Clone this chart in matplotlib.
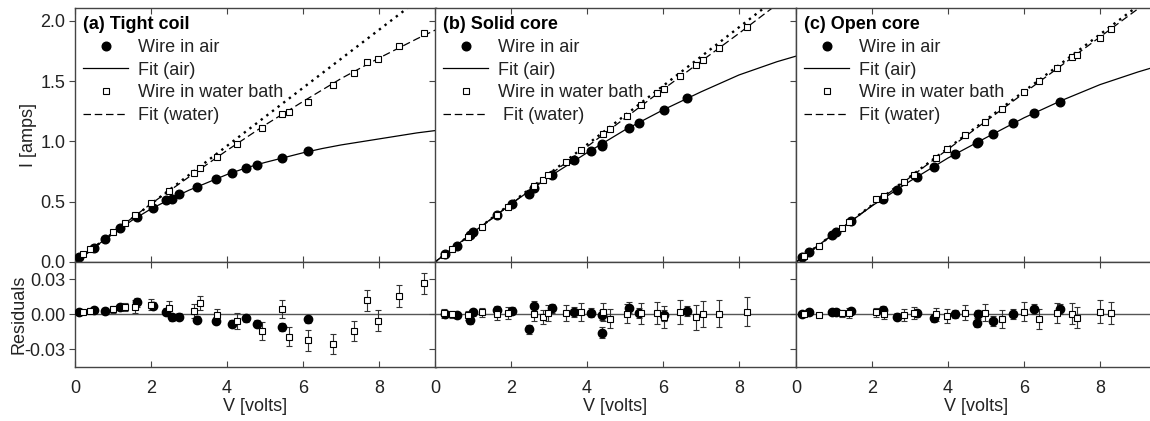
import matplotlib
matplotlib.use('Agg')
import matplotlib.pyplot as plt

plt.rcParams['font.family'] = ['Liberation Sans', 'DejaVu Sans']
plt.rcParams['font.size'] = 13

titles = ['(a) Tight coil', '(b) Solid core', '(c) Open core']
water_fit_labels = ['Fit (water)', ' Fit (water)', 'Fit (water)']

# --- (a) tight coil ---
a_air_v = [0.1, 0.5, 0.79, 1.19, 1.63, 2.06, 2.40, 2.56, 2.74, 3.21, 3.71, 4.14, 4.50, 4.79, 5.45, 6.14]
a_air_i = [0.04, 0.12, 0.19, 0.28, 0.37, 0.45, 0.51, 0.525, 0.56, 0.62, 0.69, 0.74, 0.78, 0.805, 0.86, 0.92]
a_air_res = [0.002, 0.0034, 0.003, 0.006, 0.0103, 0.0074, 0.0023, -0.0026, -0.002, -0.0049, -0.0057,
             -0.0083, -0.0034, -0.0083, -0.0109, -0.0043]
a_air_err = [0.0015, 0.0018, 0.002, 0.0025, 0.004, 0.003, 0.003, 0.003, 0.003, 0.003, 0.003, 0.003,
             0.003, 0.003, 0.0033, 0.003]
a_wat_v = [0.22, 0.40, 1.0, 1.31, 1.58, 2.01, 2.47, 3.12, 3.29, 3.74, 4.26, 4.93, 5.46, 5.62, 6.12, 6.80,
           7.33, 7.68, 7.97, 8.52, 9.18]
a_wat_i = [0.067, 0.106, 0.25, 0.32, 0.39, 0.49, 0.59, 0.74, 0.78, 0.87, 0.975, 1.11, 1.23, 1.24, 1.33,
           1.47, 1.57, 1.66, 1.68, 1.79, 1.90]
a_wat_res = [0.002, 0.003, 0.0043, 0.006, 0.0065, 0.008, 0.0057, 0.0028, 0.0094, -0.0006, -0.006, -0.0143,
             0.0043, -0.0192, -0.0223, -0.0252, -0.014, 0.012, -0.0055, 0.0154, 0.0266]
a_wat_err = [0.0015, 0.002, 0.003, 0.0035, 0.0054, 0.0047, 0.0053, 0.006, 0.006, 0.0054, 0.0067, 0.0074,
             0.0079, 0.0083, 0.0089, 0.0086, 0.0086, 0.0089, 0.009, 0.0093, 0.0091]
a_fit_air_v = [0, 0.5, 1, 1.5, 2, 2.5, 3, 3.5, 4, 4.5, 5, 5.5, 6, 6.5, 7, 7.5, 8, 8.5, 9, 9.5]
a_fit_air_i = [0, 0.12, 0.235, 0.345, 0.44, 0.52, 0.595, 0.66, 0.725, 0.78, 0.825, 0.865, 0.905, 0.94,
               0.97, 0.995, 1.02, 1.045, 1.07, 1.09]
a_fit_wat_v = [0, 1, 2, 3, 4, 5, 6, 7, 8, 9, 9.5]
a_fit_wat_i = [0, 0.246, 0.482, 0.705, 0.925, 1.135, 1.33, 1.52, 1.69, 1.85, 1.925]
a_lin_v = [0, 9.5]
a_lin_i = [0, 2.285]

# --- (b) solid core ---
b_air_v = [0.26, 0.57, 0.93, 1.0, 1.62, 2.02, 2.47, 2.61, 3.07, 3.67, 4.11, 4.39, 4.39, 5.11, 5.37, 6.03, 6.62]
b_air_i = [0.064, 0.133, 0.225, 0.245, 0.39, 0.483, 0.567, 0.615, 0.717, 0.842, 0.92, 0.978, 0.963,
           1.114, 1.15, 1.26, 1.356]
b_air_res = [0.0005, -0.0009, -0.005, 0.0015, 0.0037, 0.003, -0.0129, 0.007, 0.005, 0.002, 0.0013,
             -0.0007, -0.0157, 0.0057, 0.001, -0.001, 0.0027]
b_air_err = [0.002, 0.002, 0.003, 0.003, 0.003, 0.003, 0.004, 0.004, 0.004, 0.004, 0.004, 0.0045, 0.0045,
             0.0045, 0.0045, 0.005, 0.0045]
b_wat_v = [0.24, 0.46, 0.88, 1.23, 1.62, 1.91, 2.61, 2.85, 2.98, 3.45, 3.84, 4.41, 4.61, 5.04, 5.41, 5.85,
           6.03, 6.46, 6.87, 7.06, 7.47, 8.22]
b_wat_i = [0.058, 0.106, 0.206, 0.294, 0.39, 0.455, 0.628, 0.683, 0.717, 0.828, 0.928, 1.058, 1.106, 1.211,
           1.30, 1.397, 1.433, 1.544, 1.636, 1.678, 1.775, 1.947]
b_wat_res = [0.0007, 0.0, -0.001, 0.0017, 0.0003, 0.001, 0.0006, -0.0026, 0.001, 0.001, 0.002, 0.002,
             -0.0037, 0.0006, 0.001, 0.001, -0.0026, 0.002, -0.0026, 0.0003, 0.0003, 0.002]
b_wat_err = [0.0035, 0.003, 0.004, 0.004, 0.005, 0.005, 0.006, 0.006, 0.0065, 0.0067, 0.0075, 0.0075,
             0.008, 0.0085, 0.009, 0.0095, 0.0095, 0.01, 0.0105, 0.011, 0.0115, 0.0125]
b_fit_air_v = [0, 1, 2, 3, 4, 5, 6, 7, 8, 9, 9.5]
b_fit_air_i = [0, 0.245, 0.48, 0.705, 0.905, 1.095, 1.26, 1.41, 1.55, 1.66, 1.706]
b_fit_wat_v = [0, 2, 4, 6, 8, 9.5]
b_fit_wat_i = [0, 0.48, 0.955, 1.43, 1.895, 2.255]
b_lin_v = [0, 9.5]
b_lin_i = [0, 2.31]

# --- (c) open core ---
c_air_v = [0.15, 0.35, 0.96, 1.04, 1.45, 2.28, 2.67, 3.18, 3.64, 4.19, 4.75, 4.78, 5.19, 5.71, 6.26, 6.95]
c_air_i = [0.044, 0.081, 0.225, 0.245, 0.336, 0.522, 0.60, 0.706, 0.789, 0.897, 0.985, 0.994, 1.064,
           1.15, 1.233, 1.33]
c_air_res = [0.0, 0.002, 0.002, 0.0023, 0.003, 0.0037, -0.002, 0.001, -0.0029, 0.0, -0.0071, 0.0,
             -0.0057, 0.0, 0.0046, 0.0043]
c_air_err = [0.0015, 0.002, 0.002, 0.002, 0.0025, 0.003, 0.003, 0.003, 0.0035, 0.0035, 0.004, 0.004,
             0.004, 0.0045, 0.0045, 0.0045]
c_wat_v = [0.2, 0.61, 1.2, 1.40, 2.10, 2.32, 2.83, 3.11, 3.68, 3.97, 4.45, 4.97, 5.41, 6.00, 6.40, 6.88,
           7.27, 7.39, 8.0, 8.28]
c_wat_i = [0.05, 0.136, 0.28, 0.328, 0.522, 0.544, 0.661, 0.725, 0.864, 0.933, 1.05, 1.161, 1.267, 1.406,
           1.503, 1.608, 1.697, 1.717, 1.858, 1.928]
c_wat_res = [0.0, -0.0006, 0.001, 0.001, 0.0017, 0.0003, -0.0006, 0.001, 0.0, -0.0011, 0.0014, 0.0014,
             -0.004, 0.0023, -0.004, 0.001, 0.0003, -0.0029, 0.0023, 0.0014]
c_wat_err = [0.0015, 0.002, 0.003, 0.004, 0.004, 0.004, 0.005, 0.005, 0.0055, 0.006, 0.0065, 0.007,
             0.0075, 0.0085, 0.0085, 0.0085, 0.009, 0.009, 0.0095, 0.0095]
c_fit_air_v = [0, 1, 2, 3, 4, 5, 6, 7, 8, 9, 9.5]
c_fit_air_i = [0, 0.235, 0.465, 0.67, 0.862, 1.03, 1.195, 1.34, 1.47, 1.575, 1.622]
c_fit_wat_v = [0, 4, 8, 9.5]
c_fit_wat_i = [0, 0.935, 1.865, 2.215]
c_lin_v = [0, 9.5]
c_lin_i = [0, 2.24]

panels = [
    (a_air_v, a_air_i, a_air_res, a_air_err, a_wat_v, a_wat_i, a_wat_res, a_wat_err,
     a_fit_air_v, a_fit_air_i, a_fit_wat_v, a_fit_wat_i, a_lin_v, a_lin_i),
    (b_air_v, b_air_i, b_air_res, b_air_err, b_wat_v, b_wat_i, b_wat_res, b_wat_err,
     b_fit_air_v, b_fit_air_i, b_fit_wat_v, b_fit_wat_i, b_lin_v, b_lin_i),
    (c_air_v, c_air_i, c_air_res, c_air_err, c_wat_v, c_wat_i, c_wat_res, c_wat_err,
     c_fit_air_v, c_fit_air_i, c_fit_wat_v, c_fit_wat_i, c_lin_v, c_lin_i),
]

W, H = 1150, 421
fig = plt.figure(figsize=(W / 100, H / 100), dpi=100)
lefts = [75, 435, 796]
pw = 361
spine_col = '#444444'
text_col = '#222222'

for k, p in enumerate(panels):
    (air_v, air_i, air_res, air_err, wat_v, wat_i, wat_res, wat_err,
     fav, fai, fwv, fwi, lv, li) = p
    x0 = lefts[k] / W
    ax = fig.add_axes([x0, 1 - 262 / H, pw / W, (262 - 8) / H])
    axr = fig.add_axes([x0, 1 - 367.3 / H, pw / W, (367.3 - 262) / H])

    ax.plot(lv, li, ':', color='black', lw=1.7, dashes=(1, 2.0))
    ax.plot(air_v, air_i, 'o', color='black', ms=6.2, label='Wire in air', zorder=4)
    ax.plot(fav, fai, '-', color='black', lw=0.9, label='Fit (air)')
    ax.plot(wat_v, wat_i, 's', mfc='white', mec='black', mew=0.8, ms=5,
            label='Wire in water bath', zorder=4)
    ax.plot(fwv, fwi, '--', color='black', lw=0.9, dashes=(6, 3), label=water_fit_labels[k])

    ax.set_xlim(0, 9.5)
    ax.set_ylim(0, 2.105)
    ax.set_yticks([0, 0.5, 1.0, 1.5, 2.0])
    ax.set_xticks([0, 2, 4, 6, 8])
    ax.tick_params(axis='x', direction='in', top=True, bottom=True, labelbottom=False,
                   length=4, color=spine_col)
    ax.tick_params(axis='y', direction='out', left=True, right=False, length=4, color=spine_col,
                   labelcolor=text_col, pad=3)
    if k == 0:
        ax.set_yticklabels(['0.0', '0.5', '1.0', '1.5', '2.0'])
        ax.set_ylabel('I [amps]', color=text_col)
        ax.yaxis.set_label_coords(-0.104, 0.5)
    else:
        ax.set_yticklabels([])

    leg = ax.legend(loc='upper left', bbox_to_anchor=(0.0, 1.0), frameon=False, numpoints=1,
                    title=titles[k], alignment='left', handlelength=2.5, handletextpad=0.55,
                    labelspacing=0.32, borderaxespad=0.1, borderpad=0.35,
                    title_fontproperties={'weight': 'bold', 'size': 13})
    for t in leg.get_texts():
        t.set_color(text_col)

    axr.axhline(0, color='#555555', lw=1.0, zorder=1)
    axr.errorbar(air_v, air_res, yerr=air_err, fmt='o', color='black', ms=6,
                 ecolor='#333333', elinewidth=0.8, capsize=2.5, capthick=0.8, zorder=4)
    axr.errorbar(wat_v, wat_res, yerr=wat_err, fmt='s', mfc='white', mec='black', mew=0.8, ms=5,
                 ecolor='#333333', elinewidth=0.8, capsize=2.5, capthick=0.8, zorder=4)
    axr.set_xlim(0, 9.5)
    axr.set_ylim(-0.0455, 0.0448)
    axr.set_xticks([0, 2, 4, 6, 8])
    axr.set_yticks([-0.03, 0.0, 0.03])
    axr.tick_params(axis='x', direction='in', top=True, bottom=True, length=4, color=spine_col,
                    labelcolor=text_col, pad=9)
    axr.tick_params(axis='y', direction='out', left=True, right=False, length=4, color=spine_col,
                    labelcolor=text_col, pad=3)
    axr.set_xlabel('V [volts]', color=text_col, labelpad=1)
    if k == 0:
        axr.set_yticklabels(['-0.03', '0.00', '0.03'])
        axr.set_ylabel('Residuals', color=text_col)
        axr.yaxis.set_label_coords(-0.132, 0.5)
    else:
        axr.set_yticklabels([])

    for a in (ax, axr):
        for s in a.spines.values():
            s.set_color(spine_col)
            s.set_linewidth(1.0)

fig.savefig('out.png', dpi=100)
